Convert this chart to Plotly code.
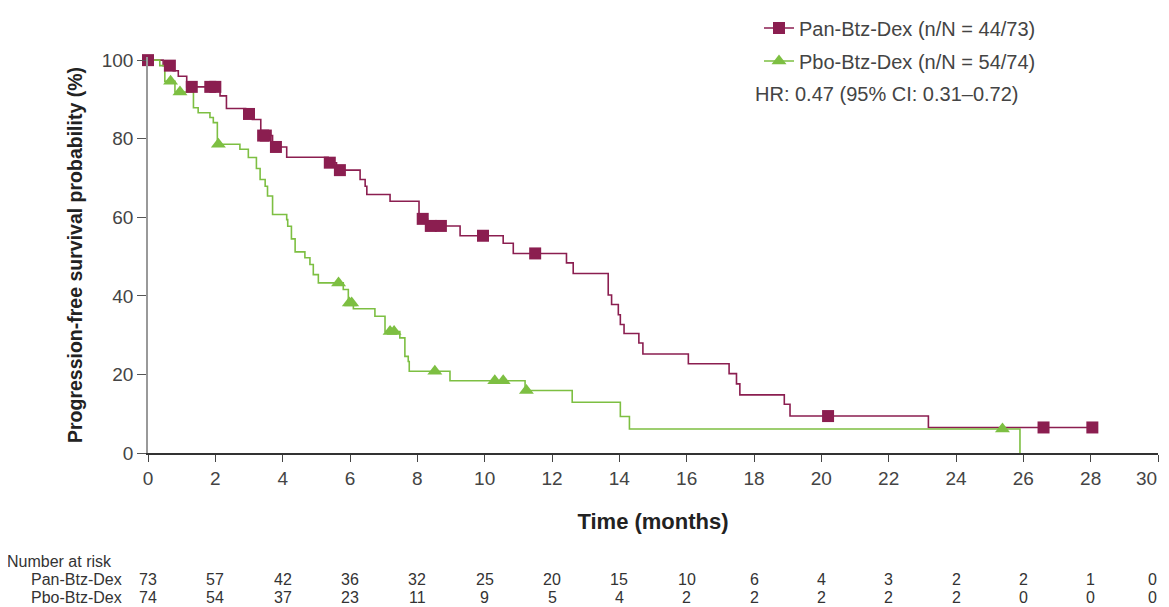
import numpy as np
import plotly.graph_objects as go

# ---------------- data ----------------
pan_t = [0, 0.45, 0.75, 0.9, 1.15, 2.14, 2.33, 2.9, 3.1, 3.35, 3.7, 4.12, 5.35, 5.6,
         6.3, 6.45, 6.5, 7.19, 8.05, 8.3, 9.27, 10.55, 10.85, 12.43, 12.63, 13.67,
         13.77, 13.97, 14.03, 14.14, 14.58, 14.7, 16.05, 17.26, 17.48, 17.58, 18.9,
         19.07, 23.18, 28.05]
pan_s = [100, 98.6, 97.3, 95.9, 93.2, 90.9, 87.7, 86.3, 84.9, 80.8, 77.9, 75.3, 73.9, 72.0,
         69.6, 67.9, 65.8, 64.1, 59.6, 57.8, 55.3, 53.4, 50.8, 48.4, 45.7, 40.2,
         37.8, 35.2, 32.7, 30.4, 28.0, 25.2, 22.7, 20.2, 17.6, 14.8, 12.4,
         9.4, 6.5, 6.5]
pan_cens = [0, 0.65, 1.3, 1.85, 2.0, 3.0, 3.42, 3.5, 3.8, 5.4, 5.7, 8.16, 8.4, 8.7,
            9.95, 11.5, 20.2, 26.6, 28.05]

pbo_t = [0, 0.35, 0.5, 0.8, 1.35, 1.49, 1.84, 1.94, 2.06, 2.73, 2.98, 3.22, 3.33, 3.48,
         3.55, 3.7, 4.12, 4.15, 4.26, 4.37, 4.66, 4.81, 4.91, 5.06, 5.8, 5.95, 6.1,
         6.74, 7.04, 7.48, 7.63, 7.73, 7.76, 8.97, 11.2, 12.6, 14.03, 14.3, 25.9]
pbo_s = [100, 98.6, 94.6, 91.9, 87.9, 86.6, 85.4, 84.1, 78.6, 77.3, 75.2, 72.4, 69.6, 67.9,
         65.4, 60.7, 59.4, 57.7, 54.5, 51.2, 49.7, 48.0, 45.4, 43.3, 41.6, 38.2, 36.7,
         34.8, 30.9, 29.3, 24.6, 23.3, 20.8, 18.4, 15.9, 12.9, 9.3, 6.1, 0]
pbo_cens = [0.67, 0.95, 2.09, 5.66, 5.98, 6.05, 7.19, 7.31, 8.52, 10.3, 10.55, 11.24, 25.38]

x_ticks = [0, 2, 4, 6, 8, 10, 12, 14, 16, 18, 20, 22, 24, 26, 28, 30]
y_ticks = [0, 20, 40, 60, 80, 100]

risk_times = [0, 2, 4, 6, 8, 10, 12, 14, 16, 18, 20, 22, 24, 26, 28, 30]
risk_pan = [73, 57, 42, 36, 32, 25, 20, 15, 10, 6, 4, 3, 2, 2, 1, 0]
risk_pbo = [74, 54, 37, 23, 11, 9, 5, 4, 2, 2, 2, 2, 2, 0, 0, 0]

pan_name = "Pan-Btz-Dex (n/N = 44/73)"
pbo_name = "Pbo-Btz-Dex (n/N = 54/74)"
hr_text = "HR: 0.47 (95% CI: 0.31–0.72)"

PAN_C = "#8B1E50"
PBO_C = "#7DBF42"
FONT = "Liberation Sans, Arial, sans-serif"

# The page body has an 8px margin, so the figure is 8px smaller and the plot
# area is positioned so that on screen it spans x 148..1158, y 57..453.
OFF = 8
FIG_W, FIG_H = 1169 - OFF, 607 - OFF
PL, PT, PW, PH = 148 - OFF, 57 - OFF, 1010, 396


def px_x(px):
    return (px - 148) / PW


def px_y(py):
    return (453 - py) / PH


def surv_at(times, vals, t):
    idx = np.searchsorted(np.array(times), np.array(t), side="right") - 1
    return list(np.array(vals)[idx])


fig = go.Figure()
fig.add_trace(go.Scatter(x=pan_t, y=pan_s, mode="lines", line=dict(color=PAN_C, width=1.6, shape="hv"),
                         showlegend=False, hoverinfo="skip", cliponaxis=False))
fig.add_trace(go.Scatter(x=pbo_t, y=pbo_s, mode="lines", line=dict(color=PBO_C, width=1.6, shape="hv"),
                         showlegend=False, hoverinfo="skip", cliponaxis=False))
fig.add_trace(go.Scatter(x=pbo_cens, y=surv_at(pbo_t, pbo_s, pbo_cens), mode="markers",
                         marker=dict(symbol="triangle-up", size=13, color=PBO_C),
                         showlegend=False, cliponaxis=False))
fig.add_trace(go.Scatter(x=pan_cens, y=surv_at(pan_t, pan_s, pan_cens), mode="markers",
                         marker=dict(symbol="square", size=12, color=PAN_C),
                         showlegend=False, cliponaxis=False))
fig.add_trace(go.Scatter(x=[None], y=[None], mode="lines+markers", name=pan_name,
                         line=dict(color=PAN_C, width=1.6),
                         marker=dict(symbol="square", size=12, color=PAN_C), legendgroup="a"))
fig.add_trace(go.Scatter(x=[None], y=[None], mode="lines+markers", name=pbo_name,
                         line=dict(color=PBO_C, width=1.6),
                         marker=dict(symbol="triangle-up", size=13, color=PBO_C), legendgroup="b"))

RISK_FONT = dict(size=16, color="#333", family=FONT)
TICK_FONT = dict(size=19, color="#444", family=FONT)
ROW0, ROW1, ROW2 = 561, 579, 597
last_t = x_ticks[-1]
annotations = [
    dict(text=hr_text, xref="paper", yref="paper", x=px_x(753), y=px_y(94),
         xanchor="left", yanchor="middle", showarrow=False, font=dict(size=20, color="#444", family=FONT)),
    dict(text="Number at risk", xref="paper", yref="paper", x=px_x(5), y=px_y(ROW0),
         xanchor="left", yanchor="middle", showarrow=False, font=dict(size=16, color="#333", family=FONT)),
    dict(text="Pan-Btz-Dex", xref="paper", yref="paper", x=px_x(124), y=px_y(ROW1),
         xanchor="right", yanchor="middle", showarrow=False, font=RISK_FONT),
    dict(text="Pbo-Btz-Dex", xref="paper", yref="paper", x=px_x(124), y=px_y(ROW2),
         xanchor="right", yanchor="middle", showarrow=False, font=RISK_FONT),
    # last x tick label kept inside the visible page edge
    dict(text=str(last_t), xref="x", yref="paper", x=last_t, y=px_y(478),
         xanchor="right", yanchor="middle", xshift=1, showarrow=False, font=TICK_FONT),
]
for t, a, b in zip(risk_times, risk_pan, risk_pbo):
    edge = t == risk_times[-1]
    common = dict(xref="x", yref="paper", x=t, yanchor="middle", showarrow=False, font=RISK_FONT,
                  xanchor="right" if edge else "center", xshift=1 if edge else 0)
    annotations.append(dict(text=str(a), y=px_y(ROW1), **common))
    annotations.append(dict(text=str(b), y=px_y(ROW2), **common))

fig.update_layout(
    width=FIG_W, height=FIG_H,
    margin=dict(l=PL, r=FIG_W - PL - PW, t=PT, b=FIG_H - PT - PH, autoexpand=False),
    paper_bgcolor="white", plot_bgcolor="white",
    font=dict(family=FONT, color="#444"),
    showlegend=True,
    legend=dict(x=px_x(759), y=px_y(OFF + 0.5), xanchor="left", yanchor="top",
                font=dict(size=20, color="#444", family=FONT), bgcolor="rgba(0,0,0,0)",
                tracegroupgap=4, itemwidth=30),
    annotations=annotations,
    xaxis=dict(range=[0, 30], tickvals=x_ticks,
               ticktext=[str(v) for v in x_ticks[:-1]] + [""],
               showgrid=False, zeroline=False,
               showline=True, linecolor="#333", linewidth=1.5, ticks="outside", ticklen=7,
               tickcolor="#444", tickwidth=1.2, tickfont=TICK_FONT,
               title=dict(text="<b>Time (months)</b>", font=dict(size=22, color="#222"), standoff=26)),
    yaxis=dict(range=[0, 100.8], tickvals=y_ticks, showgrid=False, zeroline=False,
               showline=True, linecolor="#999", linewidth=1.5, ticks="outside", ticklen=9,
               tickcolor="#555", tickwidth=1.2, tickfont=TICK_FONT,
               title=dict(text="<b>Progression-free survival probability (%)</b>",
                          font=dict(size=19.5, color="#222"), standoff=14)),
)

fig.write_html("out.html")
